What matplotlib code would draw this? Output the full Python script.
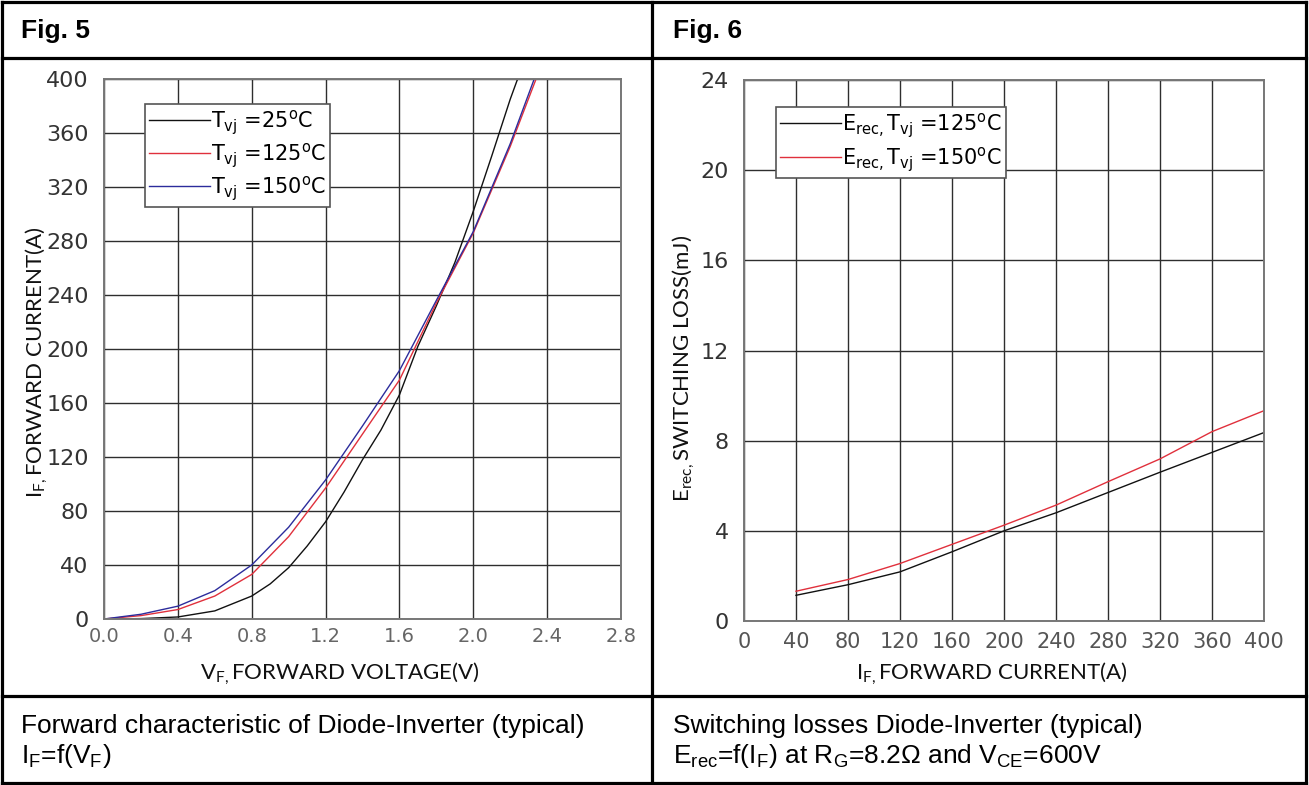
import matplotlib
matplotlib.use('Agg')
import matplotlib.pyplot as plt
from matplotlib.lines import Line2D

W, H = 1309, 785
DPI = 100

# ---------------- Fig. 5 data (forward characteristic) ----------------
vf_25 = [0.0, 0.2, 0.4, 0.6, 0.8, 0.9, 1.0, 1.1, 1.2, 1.3, 1.4, 1.5, 1.6, 1.7, 1.8, 1.9, 2.0, 2.1, 2.2, 2.24]
if_25 = [0, 0.3, 1.5, 6, 17, 26, 38, 54, 72, 94, 118, 140, 166, 202, 232, 264, 302, 343, 385, 400]
vf_125 = [0.0, 0.2, 0.4, 0.6, 0.8, 1.0, 1.2, 1.4, 1.6, 1.8, 2.0, 2.2, 2.34]
if_125 = [0, 2.5, 7, 17, 33, 61, 97, 137, 177, 234, 286, 350, 400]
vf_150 = [0.0, 0.2, 0.4, 0.6, 0.8, 1.0, 1.2, 1.4, 1.6, 1.8, 2.0, 2.2, 2.33]
if_150 = [0, 3.5, 9.5, 21, 40, 68, 103, 143, 184, 236, 287, 352, 400]

fig5_xticks = [0.0, 0.4, 0.8, 1.2, 1.6, 2.0, 2.4, 2.8]
fig5_xticklabels = ['0.0', '0.4', '0.8', '1.2', '1.6', '2.0', '2.4', '2.8']
fig5_yticks = [0, 40, 80, 120, 160, 200, 240, 280, 320, 360, 400]
fig5_labels = [r'T$_{\mathregular{vj}}$ =25$^{\mathregular{o}}$C',
               r'T$_{\mathregular{vj}}$ =125$^{\mathregular{o}}$C',
               r'T$_{\mathregular{vj}}$ =150$^{\mathregular{o}}$C']

# ---------------- Fig. 6 data (switching losses) ----------------
if_sw = [40, 80, 120, 160, 200, 240, 280, 320, 360, 400]
erec_125 = [1.14, 1.61, 2.18, 3.07, 4.0, 4.8, 5.7, 6.6, 7.48, 8.36]
erec_150 = [1.32, 1.84, 2.55, 3.4, 4.25, 5.14, 6.18, 7.19, 8.4, 9.33]

fig6_xticks = [0, 40, 80, 120, 160, 200, 240, 280, 320, 360, 400]
fig6_yticks = [0, 4, 8, 12, 16, 20, 24]
fig6_labels = [r'E$_{\mathregular{rec,}}$T$_{\mathregular{vj}}$ =125$^{\mathregular{o}}$C',
               r'E$_{\mathregular{rec,}}$T$_{\mathregular{vj}}$ =150$^{\mathregular{o}}$C']

C_BLACK = '#111111'
C_RED = '#e0303c'
C_BLUE = '#2c2c9c'

plt.rcParams['font.family'] = ['DejaVu Sans']

fig = plt.figure(figsize=(W / DPI, H / DPI), dpi=DPI)
fig.patch.set_facecolor('white')


def rect(l, t, r, b):
    return [l / W, 1 - b / H, (r - l) / W, (b - t) / H]


def fx(px):
    return px / W


def fy(py):
    return 1 - py / H


def hline(x0, x1, y, lw=2.3):
    fig.add_artist(Line2D([fx(x0), fx(x1)], [fy(y), fy(y)], transform=fig.transFigure,
                          color='black', lw=lw, solid_capstyle='projecting'))


def vline(x, y0, y1, lw=2.3):
    fig.add_artist(Line2D([fx(x), fx(x)], [fy(y0), fy(y1)], transform=fig.transFigure,
                          color='black', lw=lw, solid_capstyle='projecting'))


# table frame
hline(2, 1306, 2)
hline(2, 1306, 783)
hline(2, 1306, 58)
hline(2, 1306, 696)
vline(2, 2, 783)
vline(1306, 2, 783)
vline(652, 2, 783)

# headers
fig.text(fx(21), fy(38), 'Fig. 5', fontfamily='Liberation Sans', fontweight='bold',
         fontsize=19, va='baseline', ha='left')
fig.text(fx(673), fy(38), 'Fig. 6', fontfamily='Liberation Sans', fontweight='bold',
         fontsize=19, va='baseline', ha='left')


def style_axes(ax, ypad, xpad, xcol, xsize, ysize):
    ax.grid(True, color='#2e2e2e', lw=1.0)
    ax.set_axisbelow(True)
    ax.tick_params(length=0)
    ax.tick_params(axis='y', pad=ypad, labelsize=ysize, labelcolor='#333333')
    ax.tick_params(axis='x', pad=xpad, labelsize=xsize, labelcolor=xcol)
    for s in ax.spines.values():
        s.set_color('#777777')
        s.set_linewidth(1.4)


# ---------------- Fig. 5 ----------------
ax1 = fig.add_axes(rect(104, 79, 621, 619))
ax1.plot(vf_25, if_25, color=C_BLACK, lw=1.0, label=fig5_labels[0])
ax1.plot(vf_125, if_125, color=C_RED, lw=1.0, label=fig5_labels[1])
ax1.plot(vf_150, if_150, color=C_BLUE, lw=1.0, label=fig5_labels[2])
ax1.set_xlim(0, 2.8)
ax1.set_ylim(0, 400)
ax1.set_xticks(fig5_xticks)
ax1.set_xticklabels(fig5_xticklabels)
ax1.set_yticks(fig5_yticks)
style_axes(ax1, ypad=11, xpad=6, xcol='#666666', xsize=14, ysize=16)

leg1 = ax1.legend(loc='upper left', bbox_to_anchor=(fx(145), fy(104)), bbox_transform=fig.transFigure,
                  borderaxespad=0, fontsize=15, handlelength=2.9, handletextpad=0.05,
                  labelspacing=0.2, borderpad=0.2, fancybox=False, framealpha=1,
                  edgecolor='#555555')
leg1.get_frame().set_linewidth(1.2)

LABEL_KW = dict(fontfamily='Lato', fontsize=16, color='#111111')

fig.text(fx(340), fy(679), r'V$_{\mathregular{F,}}$FORWARD VOLTAGE(V)',
         ha='center', va='baseline', **LABEL_KW)
fig.text(fx(42), fy(362), r'I$_{\mathregular{F,}}$FORWARD CURRENT(A)',
         ha='center', va='baseline', rotation=90, rotation_mode='anchor', **LABEL_KW)

# ---------------- Fig. 6 ----------------
ax2 = fig.add_axes(rect(744, 80, 1264, 621))
ax2.plot(if_sw, erec_125, color=C_BLACK, lw=1.0, label=fig6_labels[0])
ax2.plot(if_sw, erec_150, color=C_RED, lw=1.0, label=fig6_labels[1])
ax2.set_xlim(0, 400)
ax2.set_ylim(0, 24)
ax2.set_xticks(fig6_xticks)
ax2.set_yticks(fig6_yticks)
style_axes(ax2, ypad=11, xpad=8, xcol='#555555', xsize=15, ysize=16)

leg2 = ax2.legend(loc='upper left', bbox_to_anchor=(fx(776), fy(107)), bbox_transform=fig.transFigure,
                  borderaxespad=0, fontsize=15, handlelength=2.9, handletextpad=0.05,
                  labelspacing=0.25, borderpad=0.2, fancybox=False, framealpha=1,
                  edgecolor='#555555')
leg2.get_frame().set_linewidth(1.2)

fig.text(fx(992), fy(679), r'I$_{\mathregular{F,}}$FORWARD CURRENT(A)',
         ha='center', va='baseline', **LABEL_KW)
fig.text(fx(689), fy(368), r'E$_{\mathregular{rec,}}$SWITCHING LOSS(mJ)',
         ha='center', va='baseline', rotation=90, rotation_mode='anchor', **LABEL_KW)

# ---------------- captions ----------------
fig.text(fx(21), fy(733), 'Forward characteristic of Diode-Inverter (typical)',
         fontfamily='Liberation Sans', fontsize=19, va='baseline', ha='left')
fig.text(fx(21), fy(763), r'I$_{\mathregular{F}}$=f(V$_{\mathregular{F}}$)',
         fontfamily='Liberation Sans', fontsize=19, va='baseline', ha='left')
fig.text(fx(673), fy(733), 'Switching losses Diode-Inverter (typical)',
         fontfamily='Liberation Sans', fontsize=19, va='baseline', ha='left')
fig.text(fx(673), fy(763),
         r'E$_{\mathregular{rec}}$=f(I$_{\mathregular{F}}$) at R$_{\mathregular{G}}$=8.2Ω and V$_{\mathregular{CE}}$=600V',
         fontfamily='Liberation Sans', fontsize=19, va='baseline', ha='left')

fig.savefig('out.png', dpi=DPI, facecolor='white')
